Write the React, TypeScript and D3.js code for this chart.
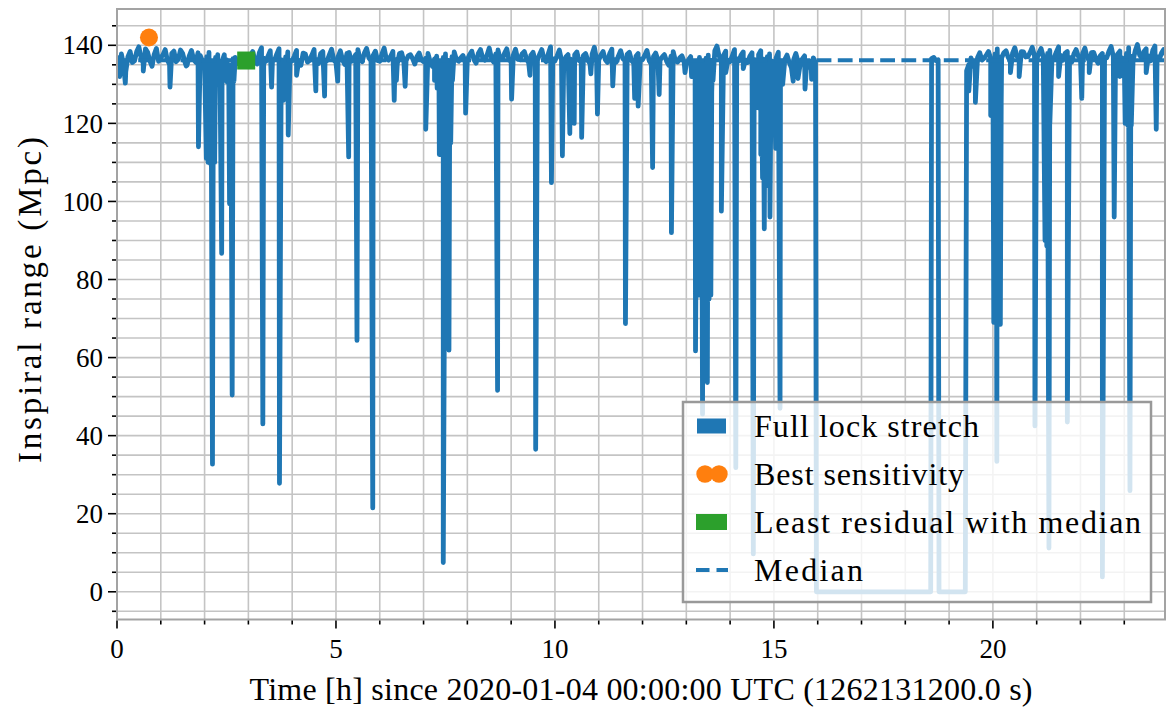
import React from "react";
import * as d3 from "d3";

// ---------- data ----------
const X_MAX = 23.93;
const Y_MIN = -7.1;
const Y_MAX = 149.3;
const BASE_STEP = 0.1; // hours between baseline samples

// baseline inspiral range at t = i*0.1 h, one row per hour; null = no lock
const baseline: (number | null)[] = [
  135.5, 137.8, 133.2, 138.4, 136.0, 139.6, 135.4, 138.2, 134.6, 139.2,
  136.8, 138.9, 135.1, 138.5, 136.4, 137.9, 134.9, 138.7, 135.6, 137.4,
  135.8, 138.2, 134.7, 137.6, 135.9, 136.3, 134.8, 136.9, 135.4, 136.2,
  136.1, 138.4, 135.2, 139.4, 135.9, 138.6, 136.3, 139.1, 135.4, 138.3,
  136.0, 138.7, 134.9, 137.8, 136.2, 138.9, 135.3, 138.4, 136.1, 139.0,
  135.6, 138.6, 135.1, 138.2, 136.5, 138.9, 135.8, 139.2, 136.0, 138.5,
  135.9, 139.3, 136.2, 138.4, 135.3, 138.1, 136.0, 137.6, 135.2, 138.0,
  135.8, 137.9, 134.6, 137.2, 135.0, 137.8, 135.6, 138.3, 135.9, 137.4,
  136.3, 138.5, 135.4, 138.9, 136.2, 139.3, 135.7, 138.8, 136.4, 139.1,
  135.9, 139.0, 136.3, 138.4, 135.5, 138.2, 136.1, 138.9, 135.8, 139.6,
  136.0, 138.8, 135.2, 137.6, 135.9, 138.3, 136.4, 137.9, 135.3, 139.5,
  136.2, 138.4, 135.6, 139.0, 135.7, 138.6, 136.0, 138.2, 135.4, 137.9,
  136.3, 138.7, 135.1, 138.0, 136.2, 137.6, 134.9, 138.4, 135.7, 137.3,
  135.2, 137.1, 134.6, 136.9, 135.3, 137.5, 136.1, 139.8, 136.4, 138.5,
  135.8, 138.9, 136.0, 138.3, 135.6, 138.1, 135.9, 138.6, 136.2, 137.8,
  135.4, 138.2, 135.0, 137.5, 134.2, 137.9, 135.1, 137.3, 134.4, 136.8,
  null, null, null, null, null, null, null, null, null, null,
  null, null, null, null, null, null, null, null, null, null,
  null, null, null, null, null, null, 136.6, 136.1, null, null,
  null, null, null, null, 133.5, 136.8, 135.2, 138.1, 136.7, 138.4,
  136.2, 139.1, 136.8, 138.6, 135.9, 139.4, 136.5, 138.3, 137.1, 139.5,
  136.4, 139.2, 135.8, 138.7, 136.9, 139.6, 136.2, 138.4, 135.7, 138.9,
  136.6, 139.3, 136.0, 138.2, 135.4, 137.9, 136.8, 139.7, 136.3, 138.5,
  136.1, 139.4, 135.9, 140.2, 136.7, 139.1, 136.0, 139.8, 136.4, 138.9,
];

// baseline samples half-way between, at t = i*0.1 + 0.05 h
const baselineMid: (number | null)[] = [
  136.9, 135.0, 137.1, 135.6, 138.4, 136.8, 139.1, 136.0, 137.7, 135.9,
  137.6, 136.2, 137.9, 135.8, 138.8, 135.7, 137.3, 136.4, 138.1, 136.0,
  137.1, 135.5, 136.9, 134.9, 137.6, 135.1, 136.6, 135.3, 137.2, 134.9,
  137.4, 136.0, 138.1, 136.7, 137.3, 136.1, 137.8, 136.3, 137.0, 135.9,
  137.3, 136.1, 138.0, 135.7, 137.5, 136.4, 137.9, 135.8, 137.6, 136.2,
  137.1, 136.3, 137.9, 135.9, 137.6, 136.4, 138.1, 136.8, 137.4, 136.1,
  137.8, 136.5, 137.2, 136.4, 137.9, 135.8, 137.3, 136.6, 137.1, 136.3,
  136.7, 135.9, 136.5, 135.7, 136.9, 136.2, 137.1, 136.4, 136.8, 135.7,
  137.6, 136.3, 137.9, 136.8, 137.5, 136.7, 137.8, 136.4, 138.0, 136.2,
  137.5, 136.4, 137.8, 136.6, 137.4, 136.1, 137.7, 136.5, 137.9, 136.6,
  137.3, 136.2, 137.0, 136.5, 137.6, 136.1, 137.4, 136.2, 137.8, 136.4,
  137.5, 136.3, 137.9, 136.4, 137.3, 136.6, 137.7, 136.1, 137.2, 136.5,
  137.4, 136.2, 137.1, 136.3, 137.0, 135.9, 137.2, 136.1, 136.8, 135.8,
  136.3, 135.6, 136.0, 135.8, 136.7, 136.2, 138.6, 137.2, 137.4, 136.2,
  137.3, 136.6, 137.5, 136.2, 137.2, 136.4, 137.6, 136.5, 137.1, 136.0,
  136.8, 136.0, 136.4, 135.6, 136.3, 135.9, 136.5, 135.6, 136.0, 135.5,
  null, null, null, null, null, null, null, null, null, null,
  null, null, null, null, null, null, null, null, null, null,
  null, null, null, null, null, null, 136.9, 136.3, null, null,
  null, null, null, null, 135.1, 134.6, 136.9, 136.2, 137.5, 136.6,
  137.8, 137.0, 138.1, 136.9, 138.0, 137.2, 138.4, 137.0, 138.2, 137.3,
  138.0, 137.1, 137.9, 136.8, 138.3, 137.4, 138.0, 136.9, 137.8, 137.2,
  137.9, 137.0, 138.1, 136.6, 137.3, 136.9, 138.5, 137.1, 137.8, 136.8,
  137.9, 137.2, 138.6, 137.5, 138.4, 137.3, 138.7, 137.1, 138.0, 137.6,
];

// glitches: [time (h), range (Mpc)]
const dips: [number, number][] = [
  [0.06, 132], [0.19, 130.3], [0.6, 133.4], [1.21, 129.3], [1.58, 134.7], [1.86, 114],
  [2.04, 111], [2.06, 128], [2.08, 110], [2.11, 127], [2.13, 109.7], [2.15, 129], [2.18, 32.7],
  [2.21, 128], [2.23, 110], [2.26, 131], [2.31, 130.8],
  [2.39, 86.7], [2.47, 131], [2.52, 130.5], [2.57, 99.4], [2.6, 131], [2.63, 50.4], [2.67, 130.8],
  [3.33, 43], [3.53, 129.3], [3.71, 27.8], [3.8, 125.9], [3.85, 131], [3.91, 117], [4.1, 132.3],
  [4.54, 128.3], [4.74, 127], [5.04, 130.8], [5.29, 111.4], [5.48, 64.4], [5.84, 21.5],
  [6.33, 125.9], [6.38, 131], [6.58, 129.5], [7.05, 118.5],
  [7.25, 131], [7.31, 129], [7.36, 112], [7.4, 118], [7.45, 7.5], [7.49, 108], [7.53, 114],
  [7.58, 61.9], [7.62, 115], [7.66, 131],
  [7.96, 122.6], [8.69, 51.6], [9.01, 126.2], [9.43, 132.3], [9.56, 36.5], [9.92, 104.8],
  [10.17, 111.7], [10.34, 117.4], [10.44, 120], [10.61, 116.4], [10.82, 132.7], [10.97, 122.4],
  [11.32, 129.6], [11.61, 68.7], [11.82, 126.4], [11.9, 124.4], [12.23, 108.7], [12.38, 127.4],
  [12.66, 92], [12.97, 133],
  [13.12, 132], [13.21, 61.7], [13.25, 129], [13.29, 76], [13.31, 130], [13.33, 77], [13.35, 129],
  [13.37, 45.5], [13.39, 129], [13.41, 75], [13.43, 130], [13.45, 76], [13.47, 128], [13.48, 53.6],
  [13.5, 129], [13.52, 75], [13.54, 129], [13.56, 76], [13.58, 128], [13.61, 131],
  [13.8, 97.5], [13.9, 133], [14.13, 31.8], [14.3, 134], [14.53, 9.7], [14.64, 124],
  [14.7, 112], [14.72, 124], [14.74, 106], [14.76, 126], [14.78, 93], [14.8, 125], [14.82, 104],
  [14.84, 124], [14.86, 110], [14.88, 125], [14.91, 96], [14.93, 124], [14.95, 118],
  [15.04, 113.6], [15.14, 47], [15.2, 130], [15.44, 130.8], [15.55, 131.5], [15.71, 128.8], [15.86, 131.3],
  [19.45, 128.3], [19.6, 125.4], [19.95, 122],
  [20.02, 69], [20.04, 124], [20.06, 70], [20.08, 126], [20.09, 33.4], [20.11, 124], [20.13, 69],
  [20.15, 125], [20.17, 68.5], [20.19, 125],
  [20.4, 133], [20.6, 132], [20.96, 42.5],
  [21.19, 90], [21.21, 126], [21.23, 88.6], [21.25, 125], [21.28, 11.2], [21.3, 120],
  [21.5, 132], [21.7, 43.5], [22.03, 126.4], [22.2, 133], [22.5, 3.8], [22.77, 96], [22.9, 132],
  [23.02, 120], [23.05, 128], [23.08, 119.5], [23.1, 127], [23.13, 25.9], [23.16, 119.5],
  [23.5, 133], [23.73, 118.5],
];

// lock-loss intervals (range = 0)
const lockLoss: [number, number][] = [[15.97, 18.58], [18.77, 19.37]];

const medianRange = 136.2;
const bestPoint: [number, number] = [0.73, 142.0];
const leastPoint: [number, number] = [2.95, 136.1];

const xMajorTicks = [0, 5, 10, 15, 20];
const yMajorTicks = [0, 20, 40, 60, 80, 100, 120, 140];

const legendLabels = ["Full lock stretch", "Best sensitivity", "Least residual with median", "Median"];
const xLabel = "Time [h] since 2020-01-04 00:00:00 UTC (1262131200.0 s)";
const yLabel = "Inspiral range (Mpc)";

// ---------- styles ----------
const BLUE = "#1f77b4";
const ORANGE = "#ff7f0e";
const GREEN = "#2ca02c";
const GRID = "#c4c4c4";
const SPINE = "#a3a3a3";
const FONT = '"Liberation Serif", "DejaVu Serif", serif';

const M = { left: 117, right: 1165, top: 9, bottom: 619.5 };

function buildSeries(): [number, number][] {
  const inGap = (t: number) => lockLoss.some(([a, b]) => t > a && t < b);
  const pts: [number, number][] = [];
  baseline.forEach((v, i) => {
    const t = +(i * BASE_STEP).toFixed(3);
    if (v !== null && !inGap(t)) pts.push([t, v]);
  });
  baselineMid.forEach((v, i) => {
    const t = +(i * BASE_STEP + BASE_STEP / 2).toFixed(3);
    if (v !== null && !inGap(t)) pts.push([t, v]);
  });
  dips.forEach((d) => pts.push([d[0], d[1]]));
  lockLoss.forEach(([a, b]) => {
    pts.push([a, 0]);
    pts.push([b, 0]);
  });
  pts.sort((p, q) => p[0] - q[0]);
  return pts;
}

export default function App() {
  const x = d3.scaleLinear().domain([0, X_MAX]).range([M.left, M.right]);
  const y = d3.scaleLinear().domain([Y_MIN, Y_MAX]).range([M.bottom, M.top]);

  const series = buildSeries();
  const line = d3
    .line<[number, number]>()
    .x((d) => x(d[0]))
    .y((d) => y(d[1]));

  const hourTicks = d3.range(0, Math.floor(X_MAX) + 1);
  const yMinorTicks = d3.range(-5, 150, 5).filter((v) => v >= Y_MIN && v <= Y_MAX);

  const medianPath = d3.line<[number, number]>().x((d) => x(d[0])).y((d) => y(d[1]))([
    [0, medianRange],
    [X_MAX, medianRange],
  ]) as string;

  const lg = { x: 683, y: 402, w: 468, h: 200 };
  const rowY = [426, 474, 522, 570];
  const textStyle: React.CSSProperties = { fontFamily: FONT };

  return (
    <svg
      width={1167}
      height={707}
      style={{ position: "absolute", left: 0, top: 0, background: "#fff", fontFamily: FONT }}
    >
      <defs>
        <clipPath id="plotclip">
          <rect x={M.left} y={M.top} width={M.right - M.left} height={M.bottom - M.top} />
        </clipPath>
      </defs>
      <rect x={0} y={0} width={1167} height={707} fill="#fff" />

      {/* grid */}
      <g stroke={GRID} strokeWidth={1.6}>
        {hourTicks.map((h) => (
          <line key={"gx" + h} x1={x(h)} x2={x(h)} y1={M.top} y2={M.bottom} />
        ))}
        {yMinorTicks.map((v) => (
          <line key={"gy" + v} x1={M.left} x2={M.right} y1={y(v)} y2={y(v)} />
        ))}
      </g>

      {/* data */}
      <g clipPath="url(#plotclip)">
        <path
          d={line(series) as string}
          fill="none"
          stroke={BLUE}
          strokeWidth={4.8}
          strokeLinejoin="round"
          strokeLinecap="round"
        />
        <path d={medianPath} fill="none" stroke={BLUE} strokeWidth={4} strokeDasharray="14.8 6.4" />
        <circle cx={x(bestPoint[0])} cy={y(bestPoint[1])} r={9} fill={ORANGE} />
        <rect
          x={x(leastPoint[0]) - 9}
          y={y(leastPoint[1]) - 9}
          width={18}
          height={18}
          fill={GREEN}
        />
      </g>

      {/* spines */}
      <rect
        x={M.left}
        y={M.top}
        width={M.right - M.left}
        height={M.bottom - M.top}
        fill="none"
        stroke={SPINE}
        strokeWidth={2}
      />

      {/* ticks */}
      <g stroke="#000" strokeWidth={1.6}>
        {yMinorTicks.map((v) => (
          <line
            key={"yt" + v}
            x1={M.left - (yMajorTicks.includes(v) ? 9 : 5)}
            x2={M.left - 1}
            y1={y(v)}
            y2={y(v)}
          />
        ))}
        {hourTicks.map((h) => (
          <line
            key={"xt" + h}
            x1={x(h)}
            x2={x(h)}
            y1={M.bottom + 1}
            y2={M.bottom + (xMajorTicks.includes(h) ? 9 : 5)}
          />
        ))}
      </g>
      <g fill="#000">
        {yMajorTicks.map((v) => (
          <text key={"yl" + v} x={103} y={y(v)} dy="0.34em" textAnchor="end" fontSize={27} style={textStyle}>
            {v}
          </text>
        ))}
        {xMajorTicks.map((h) => (
          <text key={"xl" + h} x={x(h)} y={658} textAnchor="middle" fontSize={27} style={textStyle}>
            {h}
          </text>
        ))}
      </g>

      {/* axis labels */}
      <text
        x={(M.left + M.right) / 2}
        y={700}
        fontSize={32}
        textAnchor="middle"
        textLength={783}
        style={textStyle}
      >
        {xLabel}
      </text>
      <text
        transform={`translate(41, 300) rotate(-90)`}
        fontSize={33}
        textAnchor="middle"
        textLength={326}
        style={textStyle}
      >
        {yLabel}
      </text>

      {/* legend */}
      <g>
        <rect
          x={lg.x}
          y={lg.y}
          width={lg.w}
          height={lg.h}
          fill="#fff"
          fillOpacity={0.8}
          stroke="#999"
          strokeWidth={2.5}
        />
        <rect x={697} y={rowY[0] - 7.5} width={29} height={15} fill={BLUE} />
        <circle cx={705} cy={rowY[1]} r={8.7} fill={ORANGE} />
        <circle cx={719} cy={rowY[1]} r={8.7} fill={ORANGE} />
        <rect x={696} y={rowY[2] - 8} width={31} height={16} fill={GREEN} />
        <line
          x1={696}
          x2={728}
          y1={rowY[3]}
          y2={rowY[3]}
          stroke={BLUE}
          strokeWidth={4}
          strokeDasharray="13.5 7"
        />
        {legendLabels.map((s, i) => {
          const widths = [225, 210, 387, 109];
          return (
            <text key={s} x={754} y={rowY[i] + 11} fontSize={32} textLength={widths[i]} style={textStyle}>
              {s}
            </text>
          );
        })}
      </g>
    </svg>
  );
}
